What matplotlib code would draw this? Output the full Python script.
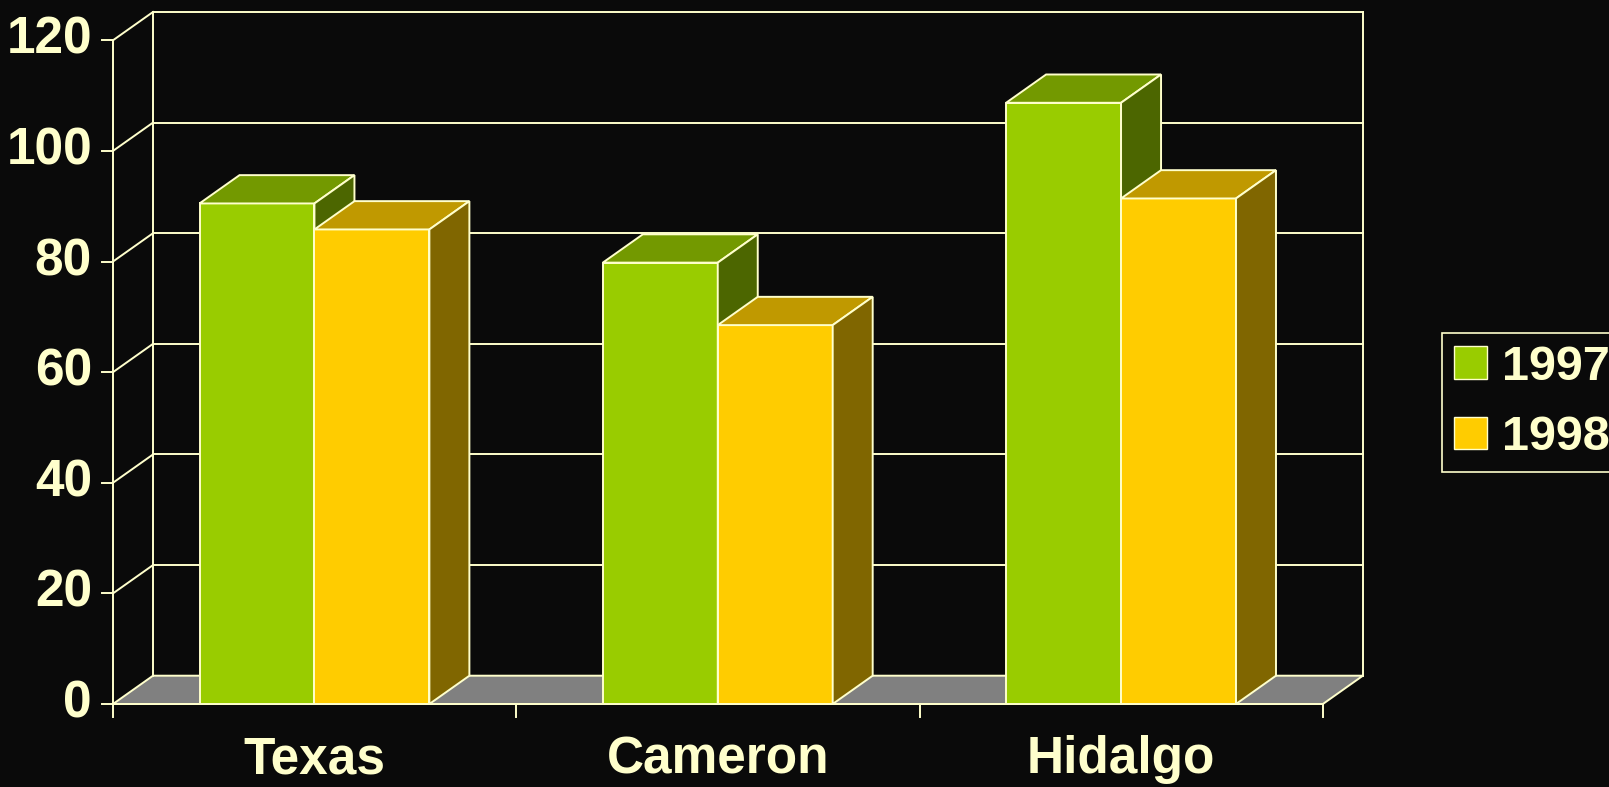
import matplotlib
matplotlib.use("Agg")
import matplotlib.pyplot as plt
from matplotlib.patches import Polygon, Patch

# data
categories = ['Texas', 'Cameron', 'Hidalgo']
years = ['1997', '1998']
v1997 = [90.5, 79.8, 108.7]
v1998 = [85.8, 68.5, 91.4]
yticks = [0, 20, 40, 60, 80, 100, 120]

bg = '#0a0a0a'
line = '#ffffcc'
front = ['#99cc00', '#ffcc00']
top = ['#739900', '#c09900']
side = ['#4c6600', '#806600']
floor = '#808080'

plt.rcParams['font.family'] = ['Liberation Sans', 'DejaVu Sans']
plt.rcParams['font.weight'] = 'bold'

fig = plt.figure(figsize=(16.09, 7.87), dpi=100, facecolor=bg)
ax = fig.add_axes([0, 0, 1, 1])
ax.set_facecolor(bg)
# one category = 403.3 px, one unit = 5.531 px, origin at (113, 704) px
ax.set_xlim(-113 / 403.3, (1609 - 113) / 403.3)
ax.set_ylim((704 - 787) / 5.531, 704 / 5.531)
ax.axis('off')

ncat = len(categories)
ymax = yticks[-1]
DX = 40 / 403.3   # depth offset, category units
DY = 28.3 / 5.531  # depth offset, value units
lw = 1.4

# floor
ax.add_patch(Polygon([(0, 0), (ncat, 0), (ncat + DX, DY), (DX, DY)],
                     closed=True, facecolor=floor, edgecolor=line, lw=lw, zorder=1))
# back wall + grid
for v in yticks[1:]:
    ax.plot([DX, ncat + DX], [v + DY, v + DY], color=line, lw=lw, zorder=1)
    ax.plot([0, DX], [v, v + DY], color=line, lw=lw, zorder=1)
ax.plot([DX, DX], [DY, ymax + DY], color=line, lw=lw, zorder=1)
ax.plot([ncat + DX, ncat + DX], [DY, ymax + DY], color=line, lw=lw, zorder=1)
# front axes
ax.plot([0, 0], [0, ymax], color=line, lw=lw, zorder=1)
ax.plot([0, ncat], [0, 0], color=line, lw=lw, zorder=1)

# ticks + labels
for v in yticks:
    ax.plot([-11 / 403.3, 0], [v, v], color=line, lw=lw)
    ax.text(-21 / 403.3, v, str(v), color=line, fontsize=37, fontweight='bold',
            ha='right', va='center')
for i in range(ncat + 1):
    ax.plot([i, i], [0, -13 / 5.531], color=line, lw=lw)
for i, c in enumerate(categories):
    ax.text(i + 0.5, -10.1, c, color=line, fontsize=37, fontweight='bold',
            ha='center', va='center')

# 3d bars
w = 0.285
off = 0.2145
z = 3
for i in range(ncat):
    for j, vals in enumerate([v1997, v1998]):
        x0 = i + off + j * w
        x1 = x0 + w
        h = vals[i]
        ax.add_patch(Polygon([(x0, 0), (x1, 0), (x1, h), (x0, h)], closed=True,
                             facecolor=front[j], edgecolor=line, lw=lw, zorder=z))
        ax.add_patch(Polygon([(x0, h), (x1, h), (x1 + DX, h + DY), (x0 + DX, h + DY)], closed=True,
                             facecolor=top[j], edgecolor=line, lw=lw, zorder=z))
        ax.add_patch(Polygon([(x1, 0), (x1 + DX, DY), (x1 + DX, h + DY), (x1, h)], closed=True,
                             facecolor=side[j], edgecolor=line, lw=lw, zorder=z))
        z += 1

handles = [Patch(facecolor=front[k], edgecolor=line) for k in range(2)]
leg = ax.legend(handles, years, loc='upper left',
                bbox_to_anchor=(1441.7 / 1609, 1 - 332.7 / 787), bbox_transform=fig.transFigure,
                frameon=True, fancybox=False, facecolor=bg, edgecolor=line,
                prop={'family': 'Liberation Sans', 'weight': 'bold', 'size': 35},
                labelcolor=line, borderaxespad=0, borderpad=0.25,
                handlelength=0.68, handleheight=0.66, handletextpad=0.32, labelspacing=0.52)
leg.get_frame().set_linewidth(1.2)
leg.get_frame().set_alpha(1)

fig.savefig('out.png', dpi=100, facecolor=bg)
